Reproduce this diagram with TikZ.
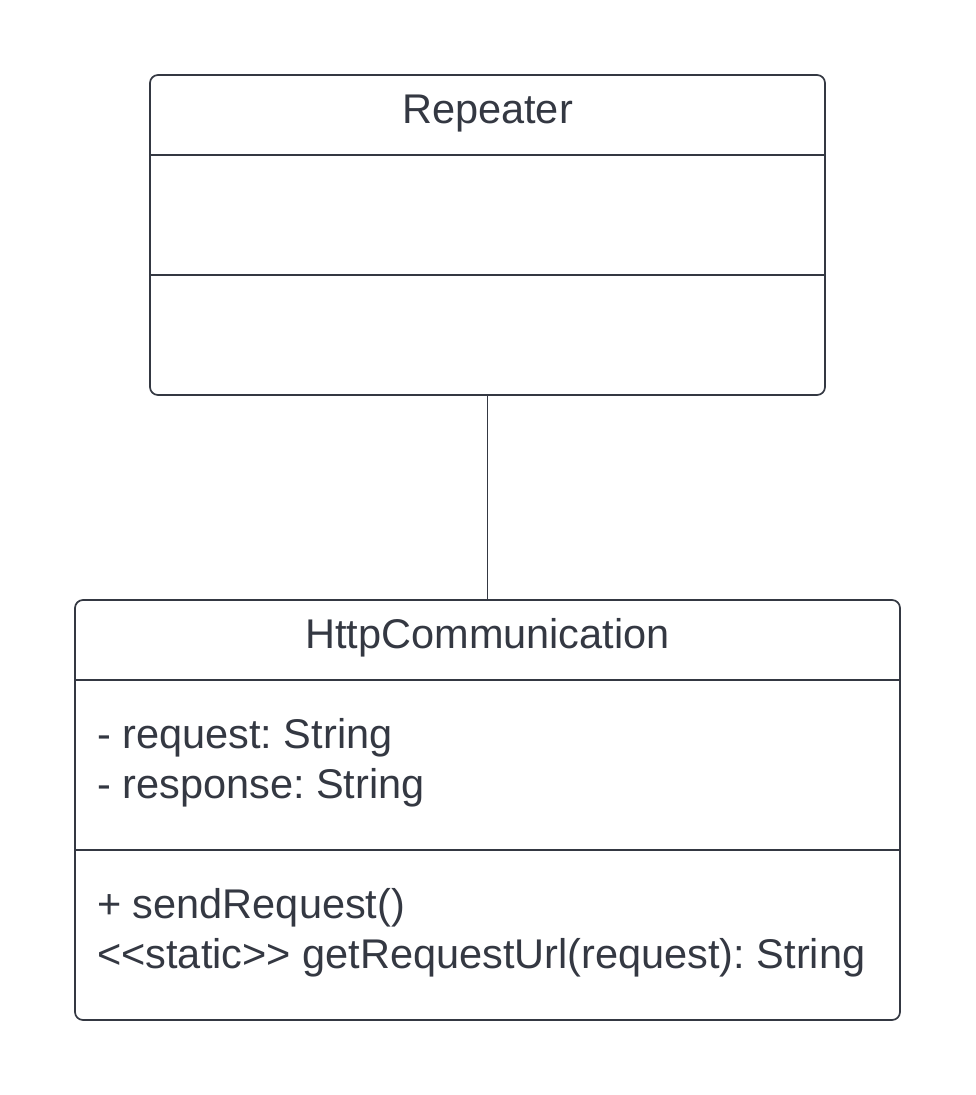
\documentclass[tikz,border=0pt]{standalone}
\usepackage{fontspec}
\setmainfont{Liberation Sans}
\definecolor{umlink}{RGB}{52,56,66}
\frenchspacing
\tikzset{
  classbox/.style={draw=umlink, line width=1.7pt, rounded corners=8pt, inner sep=0pt},
  divider/.style={draw=umlink, line width=1.7pt},
  link/.style={draw=umlink, line width=1pt},
  classname/.style={text=umlink, font=\fontsize{41.5}{50}\selectfont, inner sep=0pt, anchor=base},
  member/.style={text=umlink, font=\fontsize{41.5}{50}\selectfont, inner sep=0pt, anchor=base west}
}
\begin{document}
\begin{tikzpicture}[x=1pt,y=-1pt]
\useasboundingbox (0,0) rectangle (975,1095);
% Repeater
\node [classbox, minimum width=675pt, minimum height=320pt] (repeater) at (487.5,235) {};
\draw [divider] (repeater.west |- 0,155) -- (repeater.east |- 0,155);
\draw [divider] (repeater.west |- 0,275) -- (repeater.east |- 0,275);
\node [classname] (repeaterName) at (487.5,123) {Repeater};
% HttpCommunication
\node [classbox, minimum width=825pt, minimum height=420pt] (http) at (487.5,810) {};
\draw [divider] (http.west |- 0,680) -- (http.east |- 0,680);
\draw [divider] (http.west |- 0,850) -- (http.east |- 0,850);
\node [classname] (httpName) at (487.5,648) {HttpCommunication};
\node [member] (request) at (97,748) {- request: String};
\node [member] (response) at (97,798) {- response: String};
\node [member] (sendRequest) at (97,918) {+ sendRequest()};
\node [member] (getUrl) at (97,968) {<{}<static>{}> getRequestUrl(request): String};
% association
\draw [link] (repeater.south) -- (http.north);
\end{tikzpicture}
\end{document}
